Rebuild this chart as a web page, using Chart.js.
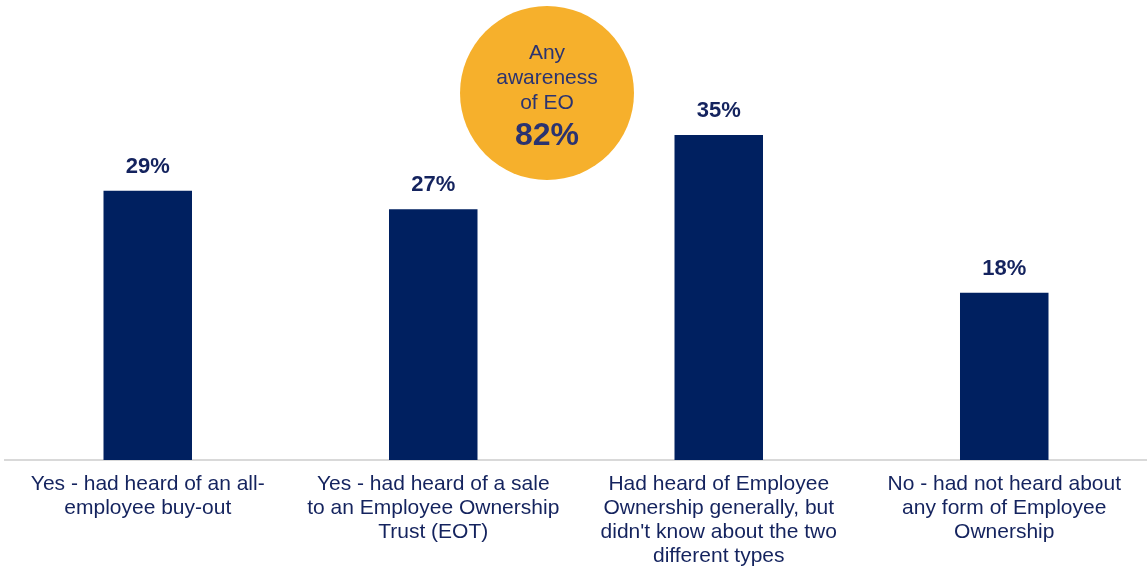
<!DOCTYPE html>
<html>
<head>
<meta charset="utf-8">
<script src="https://cdn.jsdelivr.net/npm/chart.js@4"></script>
<style>
  html, body { margin: 0; padding: 0; background: #fff; }
  #wrap { position: relative; width: 1147px; height: 568px; }
</style>
</head>
<body>
<div id="wrap"><canvas id="c"></canvas></div>
<script>
// ---- datos ----
const categorias = [
  ['Yes - had heard of an all-', 'employee buy-out'],
  ['Yes - had heard of a sale', 'to an Employee Ownership', 'Trust (EOT)'],
  ['Had heard of Employee', 'Ownership generally, but', "didn't know about the two", 'different types'],
  ['No - had not heard about', 'any form of Employee', 'Ownership'],
];
const valores = [29, 27, 35, 18];
const burbujaTexto = ['Any', 'awareness', 'of EO'];
const burbujaValor = 82;

const NAVY = '#002060';
const TXT = '#14235e';
const FONT = '"Liberation Sans", Arial, sans-serif';

// etiquetas de valor encima de cada barra
const etiquetas = {
  id: 'etiquetas',
  afterDatasetsDraw(chart) {
    const { ctx } = chart;
    const meta = chart.getDatasetMeta(0);
    ctx.save();
    ctx.fillStyle = TXT;
    ctx.font = `bold 22px ${FONT}`;
    ctx.textAlign = 'center';
    ctx.textBaseline = 'middle';
    meta.data.forEach((bar, i) => {
      ctx.fillText(valores[i] + '%', bar.x, bar.y - 24);
    });
    ctx.restore();
  }
};

// círculo "Any awareness of EO"
const burbuja = {
  id: 'burbuja',
  afterDraw(chart) {
    const { ctx } = chart;
    const cx = 547, cy = 93, r = 87;
    ctx.save();
    ctx.beginPath();
    ctx.arc(cx, cy, r, 0, Math.PI * 2);
    ctx.fillStyle = '#f6b02c';
    ctx.fill();
    ctx.fillStyle = '#2b3370';
    ctx.textAlign = 'center';
    ctx.textBaseline = 'middle';
    ctx.font = `21px ${FONT}`;
    burbujaTexto.forEach((t, i) => ctx.fillText(t, cx, 53 + i * 25));
    ctx.font = `bold 32px ${FONT}`;
    ctx.fillText(burbujaValor + '%', cx, 136);
    ctx.restore();
  }
};

new Chart(document.getElementById('c'), {
  type: 'bar',
  data: {
    labels: categorias,
    datasets: [{
      data: valores,
      backgroundColor: NAVY,
      barPercentage: 0.62,
      categoryPercentage: 0.5,
    }]
  },
  options: {
    responsive: true,
    maintainAspectRatio: false,
    animation: false,
    layout: { padding: { left: 5, right: 0, top: 5, bottom: -12 } },
    plugins: { legend: { display: false }, tooltip: { enabled: false } },
    scales: {
      x: {
        grid: { display: false, drawTicks: false },
        border: { display: true, color: '#d9d9d9', width: 2 },
        ticks: {
          color: TXT,
          font: { family: FONT, size: 21, lineHeight: '24px' },
          maxRotation: 0, autoSkip: false, padding: 12,
        }
      },
      y: {
        display: false,
        min: 0, max: 49,
      }
    }
  },
  plugins: [etiquetas, burbuja]
});
</script>
</body>
</html>
